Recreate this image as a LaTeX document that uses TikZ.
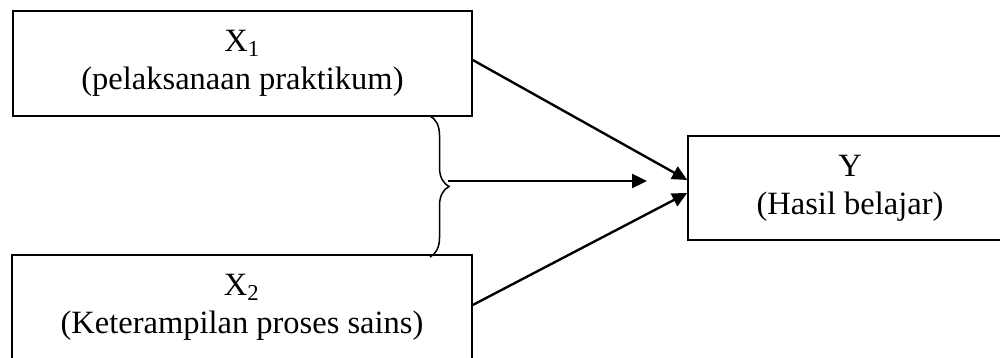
\documentclass[tikz,border=0pt]{standalone}
\usepackage{fontspec}
\setmainfont{Liberation Serif}
\usetikzlibrary{arrows.meta,decorations.pathreplacing}
\begin{document}
\begin{tikzpicture}[x=0.4pt,y=-0.4pt,
  box/.style={draw,line width=0.6pt,align=center,inner sep=0pt,
    font=\fontsize{13}{15.2}\selectfont},
  arr/.style={line width=0.95pt,-{Triangle[length=6pt,width=5.6pt]}},
  bracestyle/.style={line width=0.6pt,decorate,decoration={brace,amplitude=7.6pt}}]
\useasboundingbox (0,0) rectangle (1000,358);
\clip (0,0) rectangle (1000,358);
\node[box,minimum width=183.6pt,minimum height=42pt] (x1) at (242.5,63.5)
  {X\textsubscript{1}\\(pelaksanaan praktikum)};
\node[box,minimum width=184pt,minimum height=42pt] (x2) at (242,307.5)
  {X\textsubscript{2}\\(Keterampilan proses sains)};
\node[box,minimum width=129.6pt,minimum height=41.6pt] (y) at (850,188)
  {Y\\(Hasil belajar)};
\coordinate (btop) at (430,116);
\coordinate (bbot) at (430,257);
\coordinate (btip) at (448,181);
\coordinate (hend) at (647,181);
\draw[bracestyle] (btop) -- (bbot);
\draw[arr] (btip) -- (hend);
\draw[arr] ([yshift=1.4pt]x1.east) -- ([yshift=3.2pt]y.west);
\draw[arr] ([yshift=1pt]x2.east) -- ([yshift=-2pt]y.west);
\end{tikzpicture}
\end{document}
